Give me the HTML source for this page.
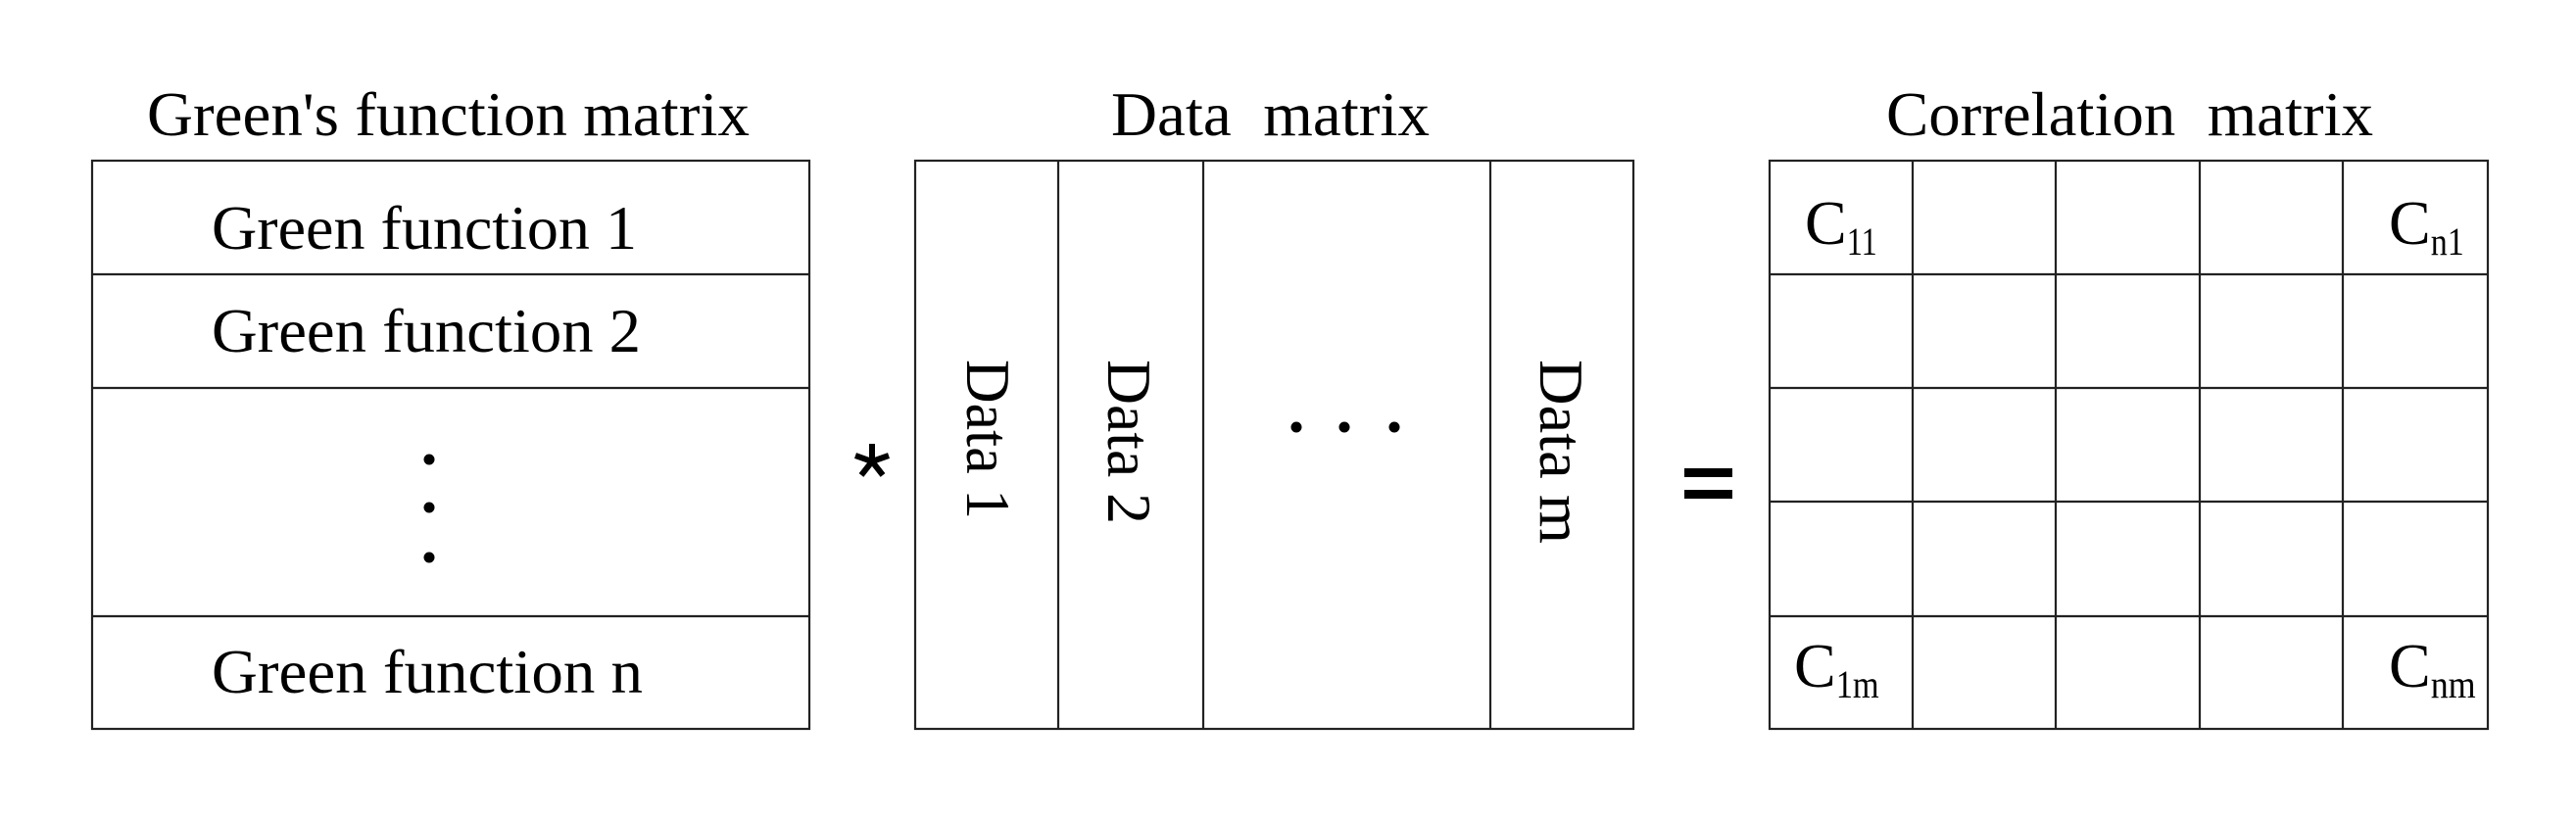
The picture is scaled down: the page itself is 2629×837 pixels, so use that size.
<!DOCTYPE html>
<html><head><meta charset="utf-8"><style>html,body{margin:0;padding:0;background:#fff}svg{display:block}</style></head>
<body>
<svg width="2629" height="837" viewBox="0 0 2629 837" xmlns="http://www.w3.org/2000/svg" font-family="'Liberation Serif', serif" fill="#000">
<g stroke="#222" stroke-width="2.2" fill="none">
<rect x="94" y="164" width="732" height="580"/>
<line x1="94" y1="280" x2="826" y2="280"/>
<line x1="94" y1="396" x2="826" y2="396"/>
<line x1="94" y1="629" x2="826" y2="629"/>
<rect x="934" y="164" width="733" height="580"/>
<line x1="1080" y1="164" x2="1080" y2="744"/>
<line x1="1228" y1="164" x2="1228" y2="744"/>
<line x1="1521" y1="164" x2="1521" y2="744"/>
<rect x="1806" y="164" width="733" height="580"/>
<line x1="1952" y1="164" x2="1952" y2="744"/>
<line x1="2098" y1="164" x2="2098" y2="744"/>
<line x1="2245" y1="164" x2="2245" y2="744"/>
<line x1="2391" y1="164" x2="2391" y2="744"/>
<line x1="1806" y1="280" x2="2539" y2="280"/>
<line x1="1806" y1="396" x2="2539" y2="396"/>
<line x1="1806" y1="512" x2="2539" y2="512"/>
<line x1="1806" y1="629" x2="2539" y2="629"/>
</g>
<g font-size="64">
<text x="150" y="138" textLength="615" lengthAdjust="spacingAndGlyphs">Green's function matrix</text>
<text x="1134" y="138" textLength="325" lengthAdjust="spacingAndGlyphs" xml:space="preserve">Data  matrix</text>
<text x="1925" y="138" textLength="497" lengthAdjust="spacingAndGlyphs" xml:space="preserve">Correlation  matrix</text>
<text x="216" y="254" textLength="434" lengthAdjust="spacingAndGlyphs">Green function 1</text>
<text x="216" y="359" textLength="438" lengthAdjust="spacingAndGlyphs">Green function 2</text>
<text x="216" y="707" textLength="440" lengthAdjust="spacingAndGlyphs">Green function n</text>
<text transform="translate(987,367) rotate(90)" textLength="163" lengthAdjust="spacingAndGlyphs">Data 1</text>
<text transform="translate(1131,367) rotate(90)" textLength="168" lengthAdjust="spacingAndGlyphs">Data 2</text>
<text transform="translate(1572,367) rotate(90)" textLength="188" lengthAdjust="spacingAndGlyphs">Data m</text>
<text x="1842" y="249">C<tspan font-size="40" dy="11" textLength="31" lengthAdjust="spacingAndGlyphs">11</tspan></text>
<text x="2438" y="249">C<tspan font-size="40" dy="11" textLength="34" lengthAdjust="spacingAndGlyphs">n1</tspan></text>
<text x="1831" y="701">C<tspan font-size="40" dy="11" textLength="44" lengthAdjust="spacingAndGlyphs">1m</tspan></text>
<text x="2438" y="701">C<tspan font-size="40" dy="11" textLength="46" lengthAdjust="spacingAndGlyphs">nm</tspan></text>
</g>
<circle cx="438" cy="469" r="5.5"/>
<circle cx="438" cy="518" r="5.5"/>
<circle cx="438" cy="569" r="5.5"/>
<circle cx="1323" cy="436" r="5.5"/>
<circle cx="1372" cy="436" r="5.5"/>
<circle cx="1423" cy="436" r="5.5"/>
<g stroke="#000" stroke-width="6" stroke-linecap="butt">
<line x1="890" y1="471" x2="890" y2="453"/>
<line x1="890" y1="471" x2="907" y2="465"/>
<line x1="890" y1="471" x2="873" y2="465"/>
<line x1="890" y1="471" x2="901" y2="485"/>
<line x1="890" y1="471" x2="879" y2="485"/>
</g>
<rect x="1719" y="478" width="49" height="9"/>
<rect x="1719" y="500" width="49" height="9"/>
</svg>
</body></html>
